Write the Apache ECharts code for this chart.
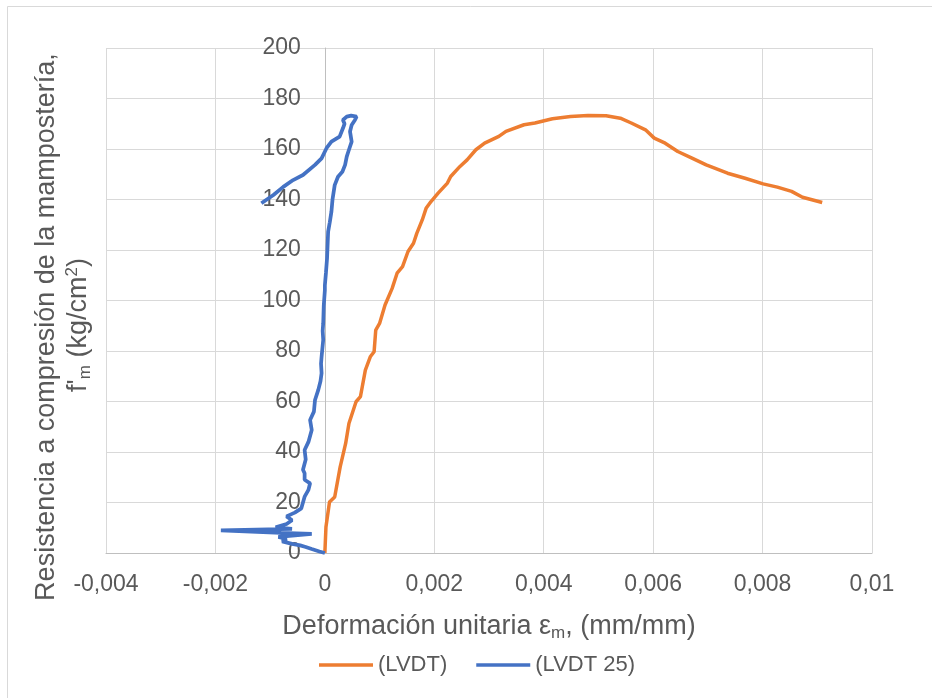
<!DOCTYPE html>
<html>
<head>
<meta charset="utf-8">
<script src="https://cdn.jsdelivr.net/npm/echarts@6/dist/echarts.min.js"></script>
<style>
html,body{margin:0;padding:0;background:#fff;}
#chart{width:932px;height:698px;}
</style>
</head>
<body>
<div id="chart"></div>
<script>
// ---- Data ----
var seriesNames = ['(LVDT)', '(LVDT 25)'];

// (LVDT) strain values and stresses
var lvdtX = [0, 0.00002, 0.000085, 0.00018, 0.00028, 0.00038, 0.00044, 0.00057, 0.00065, 0.00074,
  0.00083, 0.0009, 0.00093, 0.001, 0.0011, 0.00123, 0.00132, 0.00142, 0.00152, 0.00162,
  0.00168, 0.00178, 0.00185, 0.00194, 0.00207, 0.00224, 0.0023, 0.00247, 0.0026, 0.00276,
  0.00292, 0.00318, 0.00331, 0.00364, 0.00384, 0.00416, 0.00449, 0.00481, 0.00514, 0.0054,
  0.0056, 0.00586, 0.00602, 0.00622, 0.00645, 0.00671, 0.00697, 0.00736, 0.00768, 0.00801,
  0.00827, 0.00853, 0.00873, 0.00909];
var lvdtY = [0, 10.3, 20.2, 22.2, 34.1, 43.4, 51.3, 59.9, 61.9, 72.4,
  77.7, 79.7, 88.3, 90.9, 98.2, 104.8, 110.8, 113.4, 119.4, 122.7,
  126.6, 131.9, 136.5, 139.2, 142.5, 146.5, 149.1, 153.1, 155.7, 159.7,
  162.3, 165, 167, 169.6, 170.3, 172, 172.9, 173.3, 173.2, 172.2,
  170.3, 167.6, 164.3, 162.3, 159, 156.4, 153.7, 150.4, 148.4, 146.2,
  144.9, 143.2, 140.9, 138.8];

// (LVDT 25) strain values and stresses
var lvdt25X = [0, -0.0001, -0.00024, -0.00035, -0.00045, -0.0006, -0.00078, -0.0007, -0.00085, -0.00024,
  -0.0008, -0.0019, -0.0006, -0.0009, -0.0007, -0.0006, -0.0007, -0.00055, -0.00043, -0.0004,
  -0.00037, -0.0003, -0.00027, -0.00037, -0.00037, -0.0004, -0.00035, -0.00037, -0.0003, -0.00024,
  -0.00027, -0.0002, -0.00018, -0.00012, -0.00008, -0.00006, -0.00007, -0.00006, -0.00003, -0.00004,
  -0.00003, -0.00002, 0, 0, 0.00002, 0.00004, 0.00005, 0.00006, 0.00009, 0.00012,
  0.00014, 0.00018, 0.00024, 0.00032, 0.00037, 0.0004, 0.00043, 0.00049, 0.00046, 0.00049,
  0.00055, 0.00058, 0.00048, 0.0004, 0.00033, 0.00036, 0.00033, 0.00027, 0.00012, 0.00003,
  -0.00006, -0.00018, -0.0004, -0.00058, -0.00076, -0.00094, -0.00116];
var lvdt25Y = [0, 0.6, 1.6, 2.4, 3.0, 3.6, 4.6, 5.6, 6.4, 7.6,
  8.0, 9.0, 9.6, 10.2, 11.5, 13.0, 14.5, 16.0, 17.7, 20,
  22.3, 25, 27.6, 29, 31.6, 33, 37, 40.8, 44, 48.7,
  52.7, 56, 60.6, 64.6, 68, 71.2, 75, 77.7, 84.4, 88,
  91, 98, 104, 106, 111, 116.7, 122, 127.3, 131, 135.2,
  140, 145.7, 149, 151, 153.7, 157, 159, 162.9, 166.9, 169.5,
  171.5, 172.8, 173.2, 172.8, 171.5, 170, 168.2, 164.9, 162.9, 160.3,
  156.3, 153.7, 149.7, 147.7, 145, 141.8, 138.5];

var xMin = -0.004, xMax = 0.01, xStep = 0.002;
var yMin = 0, yMax = 200, yStep = 20;
var yAxisCrossAt = 0;

function zip(xs, ys) { return xs.map(function (x, i) { return [x, ys[i]]; }); }

var FONT = '"Liberation Sans", Arial, sans-serif';
var TXT = '#595959';
var GRID_LEFT = 106;

var chart = echarts.init(document.getElementById('chart'), null, {renderer: 'canvas'});
chart.setOption({
  animation: false,
  backgroundColor: '#ffffff',
  textStyle: {fontFamily: FONT},
  grid: {left: GRID_LEFT, right: 60, top: 48, bottom: 145},
  legend: {
    left: 319, top: 654, padding: 0,
    icon: 'rect',
    itemWidth: 54, itemHeight: 3.5, itemGap: 29,
    textStyle: {fontSize: 22, color: TXT, fontFamily: FONT},
    data: seriesNames
  },
  xAxis: {
    type: 'value', min: xMin, max: xMax, interval: xStep,
    axisLine: {onZero: false, lineStyle: {color: '#bfbfbf', width: 1}},
    axisTick: {show: false},
    splitLine: {show: true, lineStyle: {color: '#d9d9d9', width: 1}},
    axisLabel: {
      color: TXT, fontSize: 23, margin: 20, fontFamily: FONT,
      formatter: function (v) { return String(parseFloat(v.toFixed(6))).replace('.', ','); }
    },
    name: '{a|Deformación unitaria ε}{s|m}{a|, (mm/mm)}',
    nameLocation: 'middle', nameGap: 59,
    nameTextStyle: {
      rich: {
        a: {fontSize: 27, color: TXT, fontFamily: FONT, lineHeight: 30},
        s: {fontSize: 17, color: TXT, fontFamily: FONT, verticalAlign: 'bottom'}
      }
    }
  },
  yAxis: {
    type: 'value', min: yMin, max: yMax, interval: yStep,
    axisLine: {show: true, onZero: false, lineStyle: {color: '#bfbfbf', width: 1}},
    axisTick: {show: false},
    splitLine: {show: true, lineStyle: {color: '#d9d9d9', width: 1}},
    axisLabel: {color: TXT, fontSize: 23, margin: 24, fontFamily: FONT}
  },
  graphic: [
    {type: 'rect', silent: true, shape: {x: 7.5, y: 6.5, width: 1200, height: 1200},
     style: {fill: 'none', stroke: '#d9d9d9', lineWidth: 1}},
    {type: 'text', x: 47, y: 327, rotation: Math.PI / 2, silent: true,
     style: {text: 'Resistencia a compresión de la mampostería,', font: '27px ' + FONT,
       fill: TXT, textAlign: 'center', textVerticalAlign: 'middle'}},
    {type: 'text', x: 79, y: 325, rotation: Math.PI / 2, silent: true,
     style: {text: "{a|f'}{s|m}{a| (kg/cm}{p|2}{a|)}", textAlign: 'center', textVerticalAlign: 'middle',
       rich: {
         a: {fontSize: 27, fill: TXT, fontFamily: FONT, lineHeight: 30},
         s: {fontSize: 17, fill: TXT, fontFamily: FONT, verticalAlign: 'bottom'},
         p: {fontSize: 17, fill: TXT, fontFamily: FONT, verticalAlign: 'top'}
       }}}
  ],
  series: [
    {name: seriesNames[0], type: 'line', symbol: 'none', smooth: false,
     lineStyle: {color: '#ED7D31', width: 3.5}, itemStyle: {color: '#ED7D31'},
     data: zip(lvdtX, lvdtY)},
    {name: seriesNames[1], type: 'line', symbol: 'none', smooth: false,
     lineStyle: {color: '#4472C4', width: 3.75}, itemStyle: {color: '#4472C4'},
     data: zip(lvdt25X, lvdt25Y)}
  ]
});
// Place the vertical axis where x = 0, as in the reference (axis crossing at zero)
var px0 = chart.convertToPixel({xAxisIndex: 0}, yAxisCrossAt);
chart.setOption({yAxis: {offset: -(px0 - GRID_LEFT)}});
</script>
</body>
</html>
